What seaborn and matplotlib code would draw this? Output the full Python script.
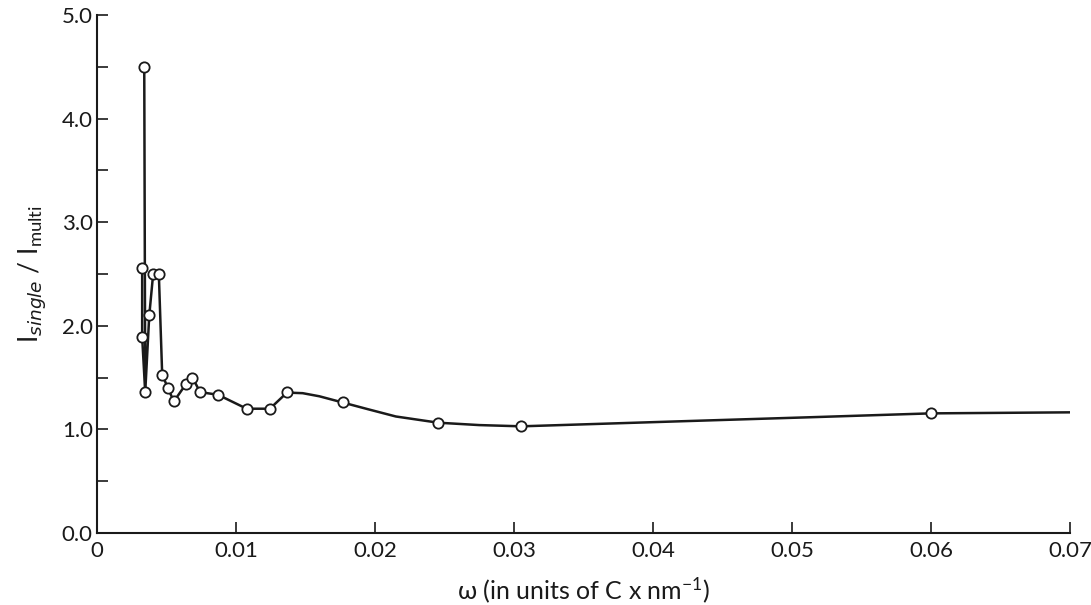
import numpy as np
import pandas as pd
import matplotlib
matplotlib.use("Agg")
import matplotlib.pyplot as plt
import seaborn as sns

omega = [0.00325, 0.00325, 0.0034, 0.00347, 0.00376, 0.00404, 0.00445, 0.00469,
         0.0051, 0.00553, 0.00641, 0.00687, 0.00742, 0.0087, 0.01077, 0.01244,
         0.0137, 0.01768, 0.02455, 0.03053, 0.05997]
ratio = [2.56, 1.89, 4.50, 1.36, 2.10, 2.50, 2.50, 1.53,
         1.40, 1.27, 1.44, 1.50, 1.36, 1.335, 1.20, 1.20,
         1.36, 1.26, 1.065, 1.03, 1.155]

# short branch on the left: 2.56 -> 1.89 -> 1.36
branch_idx = [0, 1, 3]
# main jagged line from the 4.5 point up to omega = 0.0137
main_idx = [2, 3, 4, 5, 6, 7, 8, 9, 10, 11, 12, 13, 14, 15, 16]

curve_x = [0.0137, 0.0142, 0.0148, 0.0160, 0.01768, 0.0195, 0.0215, 0.02455,
           0.0275, 0.03053, 0.0423, 0.0514, 0.05997, 0.070]
curve_y = [1.36, 1.353, 1.35, 1.32, 1.26, 1.195, 1.125, 1.065,
           1.042, 1.03, 1.08, 1.118, 1.155, 1.165]

sns.set_style("ticks")
plt.rcParams["font.family"] = ["Lato", "DejaVu Sans"]
plt.rcParams["mathtext.default"] = "regular"

fig = plt.figure(figsize=(10.91, 6.05), dpi=100)
ax = fig.add_axes([0.0889, 0.119, 0.8918, 0.856])

df = pd.DataFrame({"omega": omega, "ratio": ratio})
line_kw = dict(color="#1a1a1a", linewidth=1.8, sort=False, estimator=None, ax=ax)
sns.lineplot(data=df.iloc[branch_idx], x="omega", y="ratio", **line_kw)
sns.lineplot(data=df.iloc[main_idx], x="omega", y="ratio", **line_kw)
sns.lineplot(x=curve_x, y=curve_y, **line_kw)
sns.scatterplot(data=df, x="omega", y="ratio", ax=ax, s=55, marker="o",
                facecolor="white", edgecolor="#1a1a1a", linewidth=1.3, zorder=5)

ax.set_xlim(0, 0.07)
ax.set_ylim(0, 5.0)
ax.set_xticks(np.arange(0, 0.0701, 0.01))
ax.set_xticklabels(["0", "0.01", "0.02", "0.03", "0.04", "0.05", "0.06", "0.07"])
ax.set_yticks(np.arange(0, 5.01, 1.0))
ax.set_yticklabels(["0.0", "1.0", "2.0", "3.0", "4.0", "5.0"])
ax.set_yticks(np.arange(0.5, 5.0, 1.0), minor=True)

ax.tick_params(axis="both", which="both", direction="in", color="#1a1a1a",
               width=1.2, labelsize=16, labelcolor="#1a1a1a")
ax.tick_params(axis="both", which="major", length=8)
ax.tick_params(axis="y", which="minor", length=8)
ax.tick_params(axis="x", pad=6)
ax.tick_params(axis="y", pad=3)

for side in ["top", "right"]:
    ax.spines[side].set_visible(False)
for side in ["left", "bottom"]:
    ax.spines[side].set_linewidth(1.5)
    ax.spines[side].set_color("#1a1a1a")

ax.set_xlabel(r"ω (in units of C x nm$^{-1}$)", fontsize=18, color="#1a1a1a", labelpad=10)
ax.set_ylabel(r"I$_{\mathit{single}}$ / I$_{multi}$", fontsize=19, color="#1a1a1a", labelpad=10)

fig.savefig("out.png", dpi=100)
